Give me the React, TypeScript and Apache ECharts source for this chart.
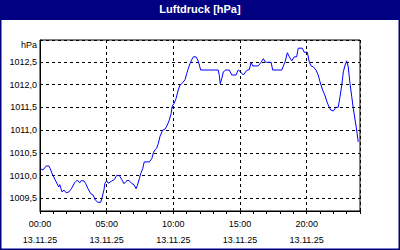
import React, { useEffect, useRef } from "react";
import * as echarts from "echarts";

const titleText = "Luftdruck [hPa]";
const unitLabel = "hPa";
const dateLabel = "13.11.25";

// minutes since 00:00
const timeMin = [
  2, 13, 28, 40, 46, 58, 73, 84, 89, 99, 108, 118, 130, 141, 156, 168, 179, 186, 198, 206,
  216, 228, 239, 249, 261, 273, 280, 288, 292, 300, 307, 323, 334, 345, 357, 368, 378, 387,
  396, 405, 414, 423, 432, 438, 447, 453, 462, 469, 492, 503, 510, 518, 525, 532, 540, 552,
  563, 573, 582, 590, 595, 603, 612, 622, 630, 642, 653, 660, 667, 675, 683, 690, 702, 710,
  717, 723, 802, 807, 811, 818, 825, 836, 852, 863, 882, 892, 900, 915, 930, 942, 950, 957,
  982, 995, 1005, 1013, 1020, 1040, 1047, 1088, 1095, 1103, 1113, 1122, 1133, 1144, 1155,
  1162, 1180, 1189, 1203, 1212, 1220, 1230, 1242, 1252, 1260, 1272, 1283, 1290, 1297, 1308,
  1320, 1332, 1342, 1350, 1358, 1365, 1373, 1380, 1387, 1395, 1403, 1410, 1418, 1425, 1432,
];

const pressure = [
  1010.15, 1010.12, 1010.21, 1010.21, 1010.15, 1010.0, 1009.86, 1009.75, 1009.8, 1009.64,
  1009.68, 1009.62, 1009.64, 1009.71, 1009.84, 1009.9, 1009.84, 1009.89, 1009.88, 1009.82,
  1009.71, 1009.6, 1009.57, 1009.46, 1009.41, 1009.41, 1009.53, 1009.69, 1009.83, 1009.88,
  1009.83, 1009.88, 1009.91, 1010.0, 1010.0, 1009.91, 1009.82, 1009.87, 1009.9, 1009.87,
  1009.82, 1009.8, 1009.71, 1009.78, 1009.93, 1010.04, 1010.15, 1010.3, 1010.3, 1010.37,
  1010.5, 1010.57, 1010.6, 1010.7, 1010.86, 1011.0, 1011.02, 1011.11, 1011.22, 1011.36,
  1011.53, 1011.58, 1011.69, 1011.88, 1011.99, 1012.04, 1012.11, 1012.24, 1012.35, 1012.46,
  1012.55, 1012.61, 1012.61, 1012.54, 1012.43, 1012.32, 1012.32, 1012.2, 1012.02, 1012.13,
  1012.28, 1012.32, 1012.32, 1012.21, 1012.21, 1012.32, 1012.29, 1012.21, 1012.31, 1012.33,
  1012.49, 1012.41, 1012.41, 1012.49, 1012.57, 1012.5, 1012.49, 1012.49, 1012.32, 1012.32,
  1012.41, 1012.5, 1012.7, 1012.61, 1012.52, 1012.61, 1012.61, 1012.8, 1012.8, 1012.71,
  1012.71, 1012.49, 1012.41, 1012.39, 1012.32, 1012.21, 1012.06, 1011.88, 1011.75, 1011.64,
  1011.55, 1011.44, 1011.42, 1011.5, 1011.5, 1011.73, 1011.99, 1012.28, 1012.43, 1012.52,
  1012.39, 1012.02, 1011.73, 1011.47, 1011.22, 1011.0, 1010.74,
];

const yMin = 1009.22;
const yMax = 1012.98;
const xMin = 0;
const xMax = 1440;
const xInterval = 300;

const NAVY = "#000080";
const FONT = "Liberation Sans";

export default function App() {
  const ref = useRef<HTMLDivElement>(null);

  useEffect(() => {
    if (!ref.current) return;
    const chart = echarts.init(ref.current, null, { renderer: "svg" });
    const data = timeMin.map((t, i) => [t, pressure[i]]);
    const pad = (n: number) => (n < 10 ? "0" + n : "" + n);
    chart.setOption({
      animation: false,
      backgroundColor: "#ffffff",
      grid: {
        left: 40,
        right: 40,
        top: 40,
        bottom: 39,
        show: true,
        borderColor: "#000",
        borderWidth: 1,
        backgroundColor: "transparent",
      },
      xAxis: {
        type: "value",
        min: xMin,
        max: xMax,
        interval: xInterval,
        axisLine: { show: true, lineStyle: { color: "#000", width: 1 } },
        axisTick: { show: true, length: 3, lineStyle: { color: "#000" } },
        minorTick: { show: true, splitNumber: 5, length: 3, lineStyle: { color: "#000" } },
        splitLine: { show: true, lineStyle: { color: "#000", type: [3, 3], width: 1 } },
        axisLabel: {
          showMaxLabel: false,
          margin: 5,
          color: "#000",
          fontFamily: FONT,
          fontSize: 9,
          lineHeight: 16,
          formatter: (v: number) => pad(Math.floor(v / 60)) + ":00\n" + dateLabel,
        },
      },
      yAxis: {
        type: "value",
        min: yMin,
        max: yMax,
        splitNumber: 7,
        axisLine: { show: true, lineStyle: { color: "#000", width: 1 } },
        axisTick: { show: false },
        splitLine: { show: true, lineStyle: { color: "#000", type: [3, 3], width: 1 } },
        axisLabel: {
          showMinLabel: false,
          showMaxLabel: false,
          margin: 3,
          color: "#000",
          fontFamily: FONT,
          fontSize: 9,
          formatter: (v: number) => v.toFixed(1).replace(".", ","),
        },
      },
      series: [
        {
          type: "line",
          data,
          showSymbol: false,
          symbol: "none",
          lineStyle: { color: "#0000ff", width: 1 },
        },
      ],
      graphic: [
        {
          type: "rect",
          shape: { x: 0, y: 0, width: 400, height: 20 },
          style: { fill: NAVY },
          silent: true,
        },
        {
          type: "rect",
          shape: { x: 0.75, y: 0.75, width: 398.5, height: 248.5 },
          style: { fill: "none", stroke: NAVY, lineWidth: 1.5 },
          silent: true,
        },
        {
          type: "text",
          x: 200,
          y: 9,
          style: {
            text: titleText,
            fill: "#fff",
            font: `bold 11px "${FONT}"`,
            textAlign: "center",
            textVerticalAlign: "middle",
          },
        },
        {
          type: "text",
          x: 37,
          y: 45,
          style: {
            text: unitLabel,
            fill: "#000",
            font: `9px "${FONT}"`,
            textAlign: "right",
            textVerticalAlign: "middle",
          },
        },
      ],
    });
    return () => chart.dispose();
  }, []);

  return (
    <div
      ref={ref}
      style={{ position: "absolute", left: 0, top: 0, width: 400, height: 250 }}
    />
  );
}
